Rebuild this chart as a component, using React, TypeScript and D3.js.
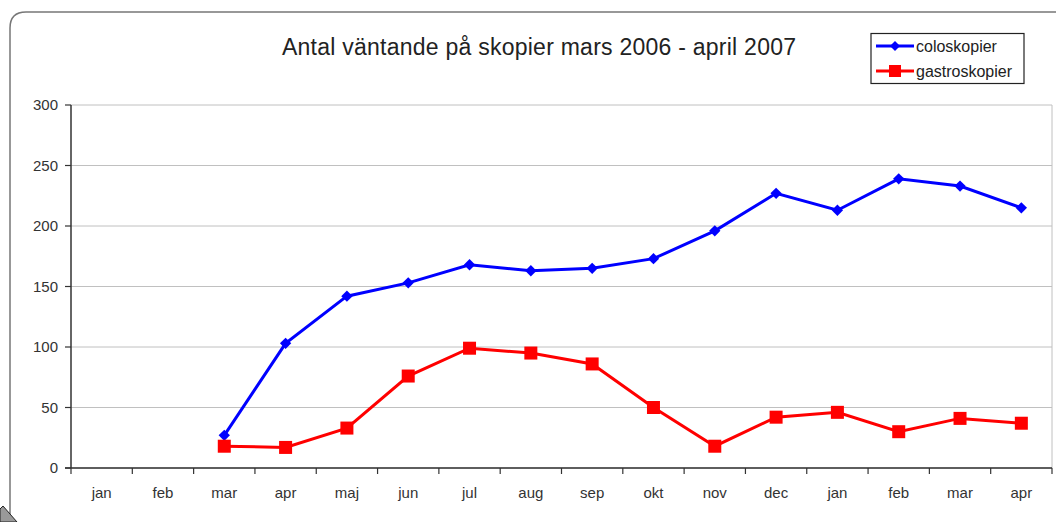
import React from "react";
import * as d3 from "d3";

const months = ["jan", "feb", "mar", "apr", "maj", "jun", "jul", "aug", "sep", "okt", "nov", "dec", "jan", "feb", "mar", "apr"];
const colo: (number | null)[] = [null, null, 27, 103, 142, 153, 168, 163, 165, 173, 196, 227, 213, 239, 233, 215];
const gastro: (number | null)[] = [null, null, 18, 17, 33, 76, 99, 95, 86, 50, 18, 42, 46, 30, 41, 37];
const yTicks = [0, 50, 100, 150, 200, 250, 300];

const W = 1056;
const H = 522;
const left = 71;
const right = 1052;
const top = 105;
const bottom = 468;
const font = "Liberation Sans, Arial, sans-serif";

export default function App() {
  const idx = months.map((_, i) => String(i));
  const x = d3.scaleBand<string>().domain(idx).range([left, right]);
  const y = d3.scaleLinear().domain([0, 300]).range([bottom, top]);
  const cx = (i: number) => (x(String(i)) || 0) + x.bandwidth() / 2;

  const line = d3
    .line<number | null>()
    .defined((d) => d !== null)
    .x((_, i) => cx(i))
    .y((d) => y(d as number));

  // diamond marker = square turned 45 degrees
  const diamond = d3.symbol().type(d3.symbolSquare).size(64)();

  return (
    <svg width={W} height={H} style={{ position: "absolute", left: 0, top: 0 }}>
      <rect width={W} height={H} fill="#fff" />
      {/* outer frame */}
      <path d={`M10,560 L10,28 Q10,12 26,12 L1060,12`} fill="none" stroke="#777" strokeWidth={1.5} />
      <polygon points="0,509 3,506 17,522 0,522" fill="#999" stroke="#222" strokeWidth={1} />

      <text x={539} y={55} textAnchor="middle" fontFamily={font} fontSize={23} fill="#222" textLength={514}>
        Antal väntande på skopier mars 2006 - april 2007
      </text>

      {/* grid */}
      {yTicks.map((t) => (
        <line key={t} x1={left} x2={right} y1={y(t)} y2={y(t)} stroke="#c0c0c0" strokeWidth={1} />
      ))}
      <line x1={right} x2={right} y1={top} y2={bottom} stroke="#c0c0c0" strokeWidth={1} />

      {/* y axis */}
      <line x1={left} x2={left} y1={top} y2={bottom} stroke="#333" strokeWidth={1.5} />
      {yTicks.map((t) => (
        <g key={t}>
          <line x1={left - 6} x2={left} y1={y(t)} y2={y(t)} stroke="#333" strokeWidth={1.2} />
          <text x={left - 13} y={y(t) + 5} textAnchor="end" fontFamily={font} fontSize={15} fill="#333">
            {t}
          </text>
        </g>
      ))}

      {/* x axis */}
      <line x1={left - 6} x2={right} y1={bottom} y2={bottom} stroke="#333" strokeWidth={1.5} />
      {d3.range(months.length + 1).map((i) => (
        <line key={i} x1={left + i * x.bandwidth()} x2={left + i * x.bandwidth()} y1={bottom} y2={bottom + 6} stroke="#333" strokeWidth={1.2} />
      ))}
      {months.map((m, i) => (
        <text key={i} x={cx(i)} y={bottom + 30} textAnchor="middle" fontFamily={font} fontSize={15} fill="#333">
          {m}
        </text>
      ))}

      {/* series */}
      <path d={line(colo) || ""} fill="none" stroke="#0000ff" strokeWidth={3} />
      <path d={line(gastro) || ""} fill="none" stroke="#ff0000" strokeWidth={3} />
      {colo.map((v, i) =>
        v === null ? null : <path key={i} d={diamond || ""} transform={`translate(${cx(i)},${y(v)}) rotate(45)`} fill="#0000ff" />
      )}
      {gastro.map((v, i) =>
        v === null ? null : <rect key={i} x={cx(i) - 6.5} y={y(v) - 6.5} width={13} height={13} fill="#ff0000" />
      )}

      {/* legend */}
      <rect x={871} y={33.5} width={153} height={50} fill="#fff" stroke="#222" strokeWidth={1.2} />
      <line x1={876} x2={914} y1={46} y2={46} stroke="#0000ff" strokeWidth={3} />
      <path d={d3.symbol().type(d3.symbolSquare).size(50)() || ""} transform="translate(895,46) rotate(45)" fill="#0000ff" />
      <text x={916} y={51.5} fontFamily={font} fontSize={16} fill="#222">coloskopier</text>
      <line x1={876} x2={914} y1={71} y2={71} stroke="#ff0000" strokeWidth={3} />
      <rect x={889} y={65} width={12} height={12} fill="#ff0000" />
      <text x={916} y={77} fontFamily={font} fontSize={16} fill="#222">gastroskopier</text>
    </svg>
  );
}
